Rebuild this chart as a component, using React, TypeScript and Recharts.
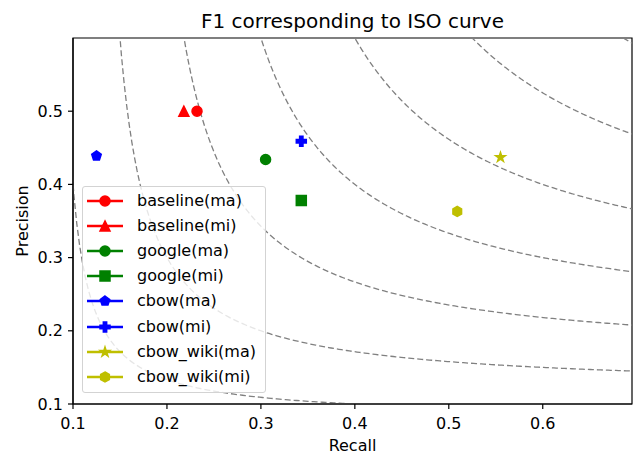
import React from 'react';
import { ComposedChart, Line, Scatter, XAxis, YAxis, Legend, ReferenceArea, Label } from 'recharts';

// Points: one per series (recall, precision)
const seriesNames = [
    'baseline(ma)',
    'baseline(mi)',
    'google(ma)',
    'google(mi)',
    'cbow(ma)',
    'cbow(mi)',
    'cbow_wiki(ma)',
    'cbow_wiki(mi)',
];
const recallValues = [0.232, 0.218, 0.305, 0.343, 0.125, 0.343, 0.555, 0.509];
const precisionValues = [0.5, 0.5, 0.434, 0.378, 0.439, 0.459, 0.437, 0.363];
const seriesColors = ['#ff0000', '#ff0000', '#008000', '#008000', '#0000ff', '#0000ff', '#bfbf00', '#bfbf00'];
const seriesMarkers = ['circle', 'triangle', 'circle', 'square', 'pentagon', 'plus', 'star', 'hexagon'];

// F1 levels of the dashed iso curves
const isoF1Values = [0.16, 0.24, 0.32, 0.4, 0.48, 0.56, 0.64];

const xTicks = [0.1, 0.2, 0.3, 0.4, 0.5, 0.6];
const yTicks = [0.1, 0.2, 0.3, 0.4, 0.5];

const FONT = '"DejaVu Sans", sans-serif';
const X_DOMAIN: [number, number] = [0.1, 0.695];
const Y_DOMAIN: [number, number] = [0.1, 0.6];

// precision on an iso-F1 curve for a given recall
const isoCurve = (f: number) => {
    const pts: { x: number; y: number }[] = [];
    const xStart = (f * 0.62) / (2 * 0.62 - f);
    const steps = 200;
    for (let i = 0; i <= steps; i++) {
        const x = xStart + ((0.7 - xStart) * i) / steps;
        pts.push({ x, y: (f * x) / (2 * x - f) });
    }
    return pts;
};

const regular = (cx: number, cy: number, r: number, n: number, inner?: number) => {
    const count = inner ? n * 2 : n;
    const pts: string[] = [];
    for (let k = 0; k < count; k++) {
        const a = -Math.PI / 2 + (k * 2 * Math.PI) / count;
        const rr = inner && k % 2 === 1 ? r * inner : r;
        pts.push(`${cx + rr * Math.cos(a)},${cy + rr * Math.sin(a)}`);
    }
    return pts.join(' ');
};

const MarkerGlyph = ({ kind, cx, cy, color, size = 10 }: any) => {
    const r = size / 2;
    const common = { fill: color, stroke: color, strokeWidth: 1.5 };
    switch (kind) {
        case 'circle':
            return <circle cx={cx} cy={cy} r={r} {...common} />;
        case 'square':
            return <rect x={cx - r} y={cy - r} width={size} height={size} {...common} />;
        case 'triangle':
            return <polygon points={`${cx},${cy - r} ${cx - r},${cy + r} ${cx + r},${cy + r}`} {...common} />;
        case 'plus': {
            const a = size / 6;
            const p = [
                [-a, -r], [a, -r], [a, -a], [r, -a], [r, a], [a, a],
                [a, r], [-a, r], [-a, a], [-r, a], [-r, -a], [-a, -a],
            ].map(([dx, dy]) => `${cx + dx},${cy + dy}`).join(' ');
            return <polygon points={p} {...common} />;
        }
        case 'pentagon':
            return <polygon points={regular(cx, cy, r, 5)} {...common} />;
        case 'hexagon':
            return <polygon points={regular(cx, cy, r, 6)} {...common} />;
        case 'star':
            return <polygon points={regular(cx, cy, r, 5, 0.381966)} {...common} />;
        default:
            return null;
    }
};

const renderLegend = () => (
    <div
        style={{
            width: 184,
            height: 207,
            boxSizing: 'border-box',
            border: '1px solid #d3d3d3',
            borderRadius: 3,
            background: 'rgba(255,255,255,0.8)',
            paddingTop: 1.5,
            fontFamily: FONT,
            fontSize: 16,
            color: '#000',
        }}
    >
        {seriesNames.map((name, i) => (
            <div key={name} style={{ display: 'flex', alignItems: 'center', height: 25.1 }}>
                <svg width={50} height={20} style={{ marginLeft: 4, flex: 'none' }}>
                    <line x1={0} x2={36} y1={10} y2={10} stroke={seriesColors[i]} strokeWidth={2.4} />
                    <MarkerGlyph kind={seriesMarkers[i]} cx={18} cy={10} color={seriesColors[i]} />
                </svg>
                <span style={{ lineHeight: '20px', whiteSpace: 'nowrap' }}>{name}</span>
            </div>
        ))}
    </div>
);

const tickStyle = { fill: '#000', fontSize: 16, fontFamily: FONT };
const fmt = (v: number) => v.toFixed(1);

const App: React.FC = () => {
    return (
        <div style={{ position: 'absolute', left: 0, top: 0, width: 634, height: 455, background: '#fff' }}>
            <div
                style={{
                    position: 'absolute',
                    left: 73,
                    width: 559,
                    top: 9,
                    textAlign: 'center',
                    fontFamily: FONT,
                    fontSize: 20,
                    lineHeight: '24px',
                    color: '#000',
                }}
            >
                F1 corresponding to ISO curve
            </div>
            <ComposedChart width={634} height={455} margin={{ top: 38, right: 2, bottom: 0, left: 0 }}>
                <XAxis
                    dataKey="x"
                    type="number"
                    domain={X_DOMAIN}
                    allowDataOverflow
                    ticks={xTicks}
                    tickFormatter={fmt}
                    tickSize={5}
                    tickMargin={9}
                    height={51}
                    tick={tickStyle}
                    axisLine={{ stroke: '#000', strokeWidth: 1.2 }}
                    tickLine={{ stroke: '#000', strokeWidth: 1.2 }}
                >
                    <Label
                        content={({ viewBox }: any) => (
                            <text
                                x={viewBox.x + viewBox.width / 2}
                                y={viewBox.y + viewBox.height - 4}
                                textAnchor="middle"
                                fontFamily={FONT}
                                fontSize={16}
                                fill="#000"
                            >
                                Recall
                            </text>
                        )}
                    />
                </XAxis>
                <YAxis
                    dataKey="y"
                    type="number"
                    domain={Y_DOMAIN}
                    allowDataOverflow
                    ticks={yTicks}
                    tickFormatter={fmt}
                    tickSize={5}
                    tickMargin={5}
                    width={73}
                    tick={tickStyle}
                    axisLine={{ stroke: '#000', strokeWidth: 1.2 }}
                    tickLine={{ stroke: '#000', strokeWidth: 1.2 }}
                >
                    <Label
                        content={({ viewBox }: any) => {
                            const x = 28;
                            const y = viewBox.y + viewBox.height / 2;
                            return (
                                <text
                                    x={x}
                                    y={y}
                                    transform={`rotate(-90 ${x} ${y})`}
                                    textAnchor="middle"
                                    fontFamily={FONT}
                                    fontSize={16}
                                    fill="#000"
                                >
                                    Precision
                                </text>
                            );
                        }}
                    />
                </YAxis>
                {isoF1Values.map((f) => (
                    <Line
                        key={`iso-${f}`}
                        data={isoCurve(f)}
                        dataKey="y"
                        stroke="#808080"
                        strokeWidth={1.3}
                        strokeDasharray="6 3"
                        dot={false}
                        activeDot={false}
                        legendType="none"
                        isAnimationActive={false}
                    />
                ))}
                {seriesNames.map((name, i) => (
                    <Scatter
                        key={name}
                        name={name}
                        data={[{ x: recallValues[i], y: precisionValues[i] }]}
                        fill={seriesColors[i]}
                        shape={(p: any) => (
                            <MarkerGlyph kind={seriesMarkers[i]} cx={p.cx} cy={p.cy} color={seriesColors[i]} />
                        )}
                        isAnimationActive={false}
                    />
                ))}
                <ReferenceArea
                    x1={X_DOMAIN[0]}
                    x2={X_DOMAIN[1]}
                    y1={Y_DOMAIN[0]}
                    y2={Y_DOMAIN[1]}
                    fill="none"
                    stroke="#000"
                    strokeWidth={1.2}
                    ifOverflow="visible"
                />
                <Legend
                    content={renderLegend}
                    layout="vertical"
                    align="center"
                    verticalAlign="middle"
                    wrapperStyle={{ left: 82, top: 186, width: 184, height: 207 }}
                />
            </ComposedChart>
        </div>
    );
};

export default App;
